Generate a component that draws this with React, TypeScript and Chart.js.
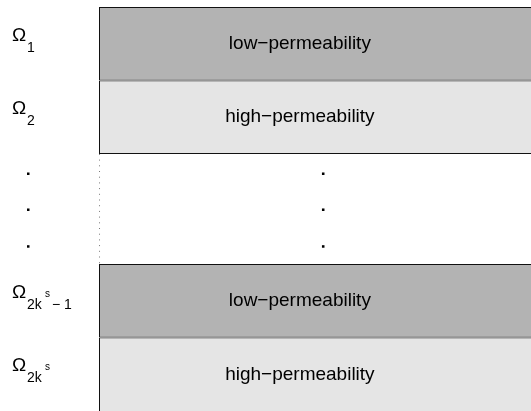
import React, { useEffect, useRef } from "react";
import { Chart, registerables } from "chart.js";

Chart.register(...registerables);

// ---- data ----
const bandNames = ["low−permeability", "high−permeability", "low−permeability", "high−permeability"];
const bandRanges: [number, number][] = [
  [0, 1],
  [1, 2],
  [3.5, 4.5],
  [4.5, 5.5],
];
const labelSubs = ["1", "2", "2k", "2k"];
const labelSups = ["", "", "s", "s"];
const labelTails = ["", "", "− 1", ""];
const dotRows = [2.27, 2.76, 3.26];
const dotCol = 0.519;
const gapRange: [number, number] = [2, 3.5];

const bandColors = ["#b3b3b3", "#e5e5e5", "#b3b3b3", "#e5e5e5"];
const FONT = '"Liberation Sans", Arial, Helvetica, sans-serif';

const labelPlugin = {
  id: "bandLabels",
  afterDatasetsDraw(chart: any) {
    const { ctx } = chart;
    const x2 = chart.scales.x2;
    const y = chart.scales.y;
    ctx.save();
    bandRanges.forEach((_r, i) => {
      const el = chart.getDatasetMeta(i).data[0];
      const cy = (el.y + el.base) / 2;
      ctx.fillStyle = "#000";
      ctx.font = `19px ${FONT}`;
      ctx.textAlign = "center";
      ctx.textBaseline = "middle";
      ctx.fillText(bandNames[i], x2.getPixelForValue(0.465), cy);

      const base = cy - 3;
      ctx.textAlign = "left";
      ctx.textBaseline = "alphabetic";
      ctx.font = `19px ${FONT}`;
      ctx.fillText("Ω", 12, base);
      ctx.font = `14px ${FONT}`;
      ctx.fillText(labelSubs[i], 27, base + 11);
      if (labelSups[i]) {
        ctx.font = `10px ${FONT}`;
        ctx.fillText(labelSups[i], 45, base - 1);
      }
      if (labelTails[i]) {
        ctx.font = `14px ${FONT}`;
        ctx.fillText(labelTails[i], 52, base + 11);
      }
    });
    // vertical ellipsis in the label column
    ctx.fillStyle = "#000";
    dotRows.forEach((v) => {
      const py = y.getPixelForValue(v);
      ctx.fillRect(27, py - 1.25, 2.5, 2.5);
    });
    ctx.restore();
  },
};

export default function App() {
  const ref = useRef<HTMLCanvasElement | null>(null);
  useEffect(() => {
    if (!ref.current) return;
    const dots = dotRows.map((y) => ({ x: dotCol, y }));
    const last = bandRanges.length - 1;
    const chart = new Chart(ref.current, {
      type: "bar",
      data: {
        labels: ["domain"],
        datasets: [
          ...bandRanges.map((r, i) => ({
            type: "bar" as const,
            label: bandNames[i],
            data: [r],
            backgroundColor: bandColors[i],
            borderColor: "#111",
            borderWidth: { top: 1, bottom: i === last ? 0 : 1, left: 1, right: 0 },
            borderSkipped: false,
            barPercentage: 1,
            categoryPercentage: 1,
            grouped: false,
            inflateAmount: 0,
          })),
          {
            type: "scatter" as const,
            xAxisID: "x2",
            data: dots,
            pointStyle: "rect",
            pointRadius: 1.8,
            backgroundColor: "#000",
            borderWidth: 0,
            clip: false,
          },
          {
            type: "line" as const,
            xAxisID: "x2",
            data: [
              { x: 0.0012, y: gapRange[0] },
              { x: 0.0012, y: gapRange[1] },
            ],
            borderColor: "#777",
            borderWidth: 1,
            borderDash: [1, 4.7],
            pointRadius: 0,
            pointHoverRadius: 0,
            fill: false,
            clip: false,
          },
        ] as any,
      },
      options: {
        animation: false,
        responsive: false,
        maintainAspectRatio: false,
        layout: { autoPadding: false, padding: { left: 99, top: 7, right: 0, bottom: 0 } },
        plugins: { legend: { display: false }, tooltip: { enabled: false } },
        scales: {
          x: { display: false, offset: true },
          x2: { type: "linear", display: false, min: 0, max: 1, offset: false },
          y: { display: false, min: 0, max: 5.5, reverse: true, offset: false },
        },
      } as any,
      plugins: [labelPlugin],
    });
    return () => chart.destroy();
  }, []);
  return (
    <div style={{ position: "fixed", left: 0, top: 0, width: 531, height: 411, background: "#fff" }}>
      <canvas ref={ref} width={531} height={411} />
    </div>
  );
}
